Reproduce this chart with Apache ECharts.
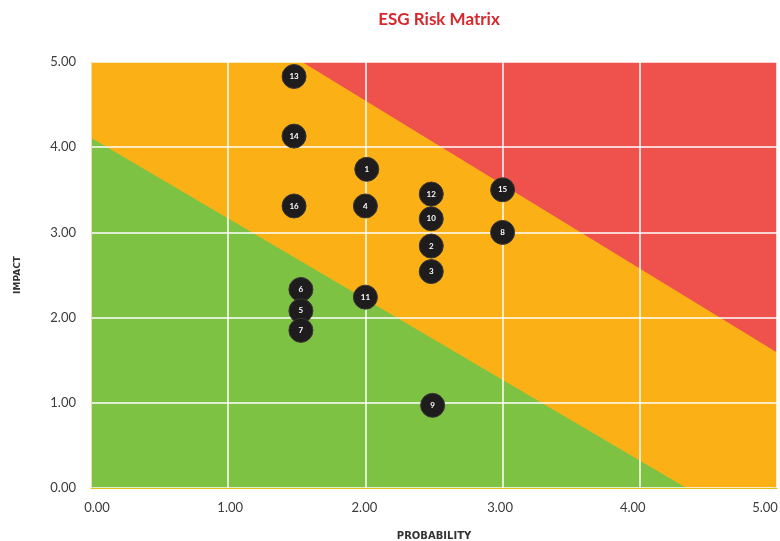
<!DOCTYPE html>
<html><head><meta charset="utf-8">
<script src="https://cdn.jsdelivr.net/npm/echarts@6/dist/echarts.min.js"></script>
<style>html,body{margin:0;padding:0;background:#fff}#c{width:780px;height:541px}</style>
</head><body><div id="c"></div>
<script>
// Risk items: [probability, impact, label]
const riskLabels = ['13','14','1','12','15','16','4','10','8','2','3','6','11','5','7','9'];
const probability = [1.48,1.48,2.01,2.48,3.00,1.48,2.00,2.48,3.00,2.48,2.48,1.53,2.00,1.53,1.53,2.49];
const impact      = [4.83,4.13,3.74,3.45,3.50,3.31,3.31,3.16,3.00,2.84,2.54,2.33,2.24,2.08,1.85,0.97];
// Zone boundaries
const greenBoundary = [[0,4.11],[4.34,0]];
const redBoundary = [[1.54,5],[5,1.59]];
const tickValues = ['0.00','1.00','2.00','3.00','4.00','5.00'];

const points = riskLabels.map((n,i)=>({name:n, value:[probability[i], impact[i]]}));
const font = 'Lato, "DejaVu Sans", sans-serif';
const labelStyle = {fontSize:13, color:'#3b3b3b', fontFamily:font};
// small horizontal nudges of x tick labels (layout only)
const xRich = {
  t0:Object.assign({padding:[0,0,0,12]}, labelStyle),
  t1:Object.assign({padding:[0,0,0,4]}, labelStyle),
  t2:Object.assign({padding:[0,2,0,0]}, labelStyle),
  t3:Object.assign({padding:[0,5,0,0]}, labelStyle),
  t4:Object.assign({padding:[0,14,0,0]}, labelStyle),
  t5:Object.assign({padding:[0,24,0,0]}, labelStyle)
};

const chart = echarts.init(document.getElementById('c'));
chart.setOption({
  animation:false,
  title:{text:'ESG Risk Matrix', left:434, textAlign:'center', top:6,
    textStyle:{color:'#d8282d', fontSize:17, fontWeight:'bold', fontFamily:font}},
  grid:{left:91, right:3, top:62, bottom:53, show:true, backgroundColor:'#fbb116', borderWidth:0,
    containLabel:false, outerBoundsMode:'none'},
  xAxis:{type:'value', min:0, max:5, interval:1, z:3,
    name:'PROBABILITY', nameLocation:'middle', nameGap:43,
    nameTextStyle:{fontSize:10, fontWeight:'bold', color:'#333', fontFamily:'"DejaVu Sans", sans-serif'},
    axisLine:{show:true, lineStyle:{color:'#e0c21a', width:1}},
    axisTick:{show:false},
    axisLabel:Object.assign({margin:13, rich:xRich, formatter:v=>{const i=Math.round(v);return '{t'+i+'|'+tickValues[i]+'}';}}, labelStyle),
    splitLine:{show:true, lineStyle:{color:'#ffffff', width:1.5}}},
  yAxis:{type:'value', min:0, max:5, interval:1, z:3,
    name:'IMPACT', nameLocation:'middle', nameGap:69, nameRotate:90,
    nameTextStyle:{fontSize:9, fontWeight:'bold', color:'#333', fontFamily:'"DejaVu Sans", sans-serif'},
    axisLine:{show:true, lineStyle:{color:'#f3dcae', width:1}},
    axisTick:{show:false},
    axisLabel:Object.assign({margin:15, formatter:v=>tickValues[Math.round(v)]}, labelStyle),
    splitLine:{show:true, lineStyle:{color:'#ffffff', width:1.5}}},
  series:[
    {type:'line', data:greenBoundary, symbol:'none', z:1, silent:true,
      lineStyle:{width:0}, areaStyle:{color:'#7dc243', opacity:1, origin:'start'}},
    {type:'line', data:redBoundary, symbol:'none', z:1, silent:true,
      lineStyle:{width:0}, areaStyle:{color:'#ef524c', opacity:1, origin:'end'}},
    {type:'scatter', data:points, symbolSize:24, z:5,
      itemStyle:{color:'#1e1c1d', borderColor:'#3a3636', borderWidth:1, opacity:1},
      label:{show:true, position:'inside', formatter:p=>p.name, color:'#fff', fontSize:8, fontWeight:'bold', fontFamily:font}}
  ]
});
</script></body></html>
